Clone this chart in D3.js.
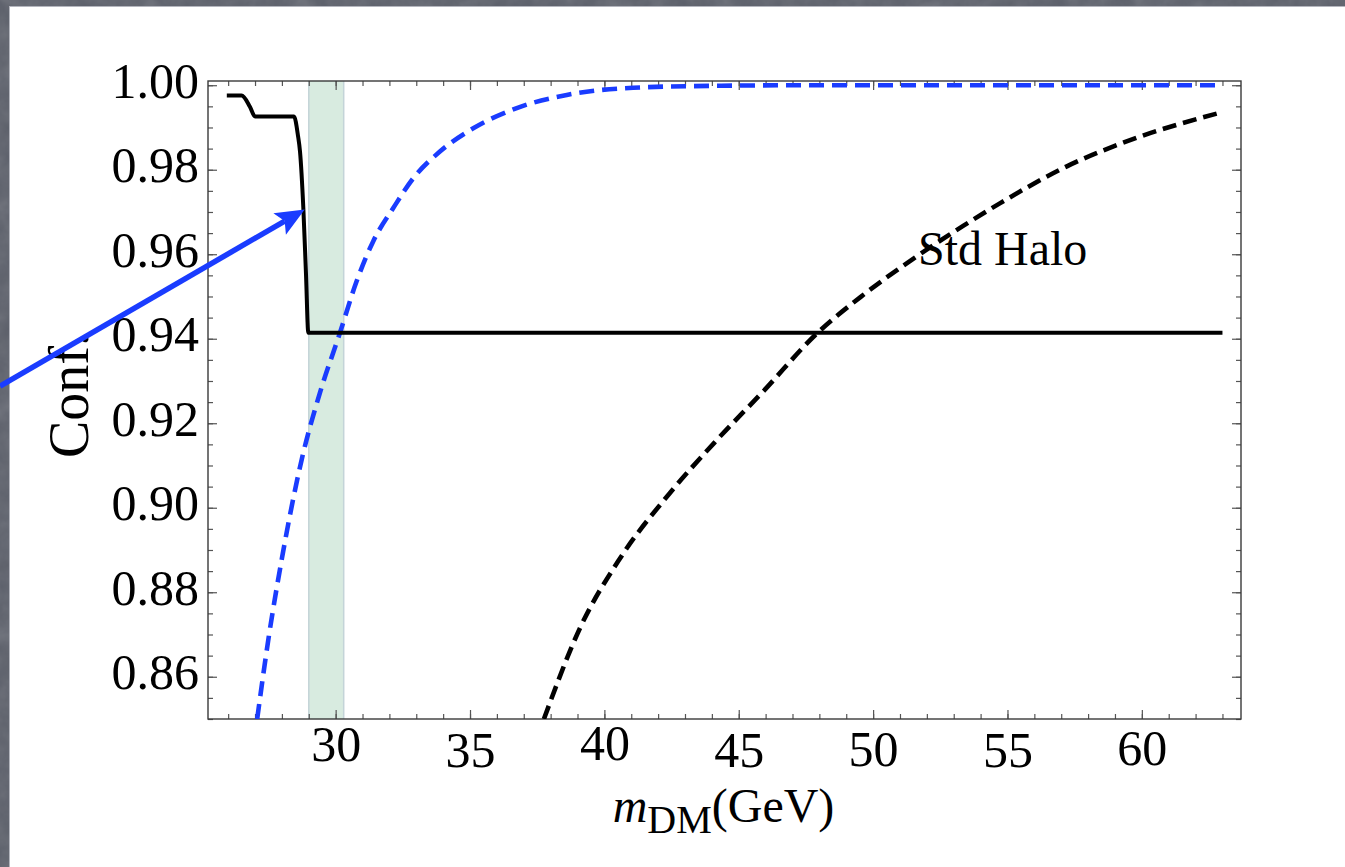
<!DOCTYPE html>
<html>
<head>
<meta charset="utf-8">
<script src="https://cdn.jsdelivr.net/npm/d3@7"></script>
<style>
  html, body { margin: 0; padding: 0; background: #575b66; overflow: hidden; }
  svg { display: block; }
</style>
</head>
<body>
<svg id="chart" width="1345" height="867"></svg>
<script>
// Confidence level versus dark-matter mass

// solid black: exclusion confidence with the modified halo
const massSolid = [25.95, 26.50, 26.81, 27.00, 28.45, 28.60, 28.674, 28.797, 28.897, 28.983, 63.0];
const confSolid = [0.99755, 0.99755, 0.9949, 0.9926, 0.9926, 0.9880, 0.9843, 0.9710, 0.9552, 0.9414, 0.9414];

// dashed blue
const massBlue = [27.08, 27.5, 28.0, 28.74, 29.42, 30.16, 30.78, 31.40, 32.15, 32.89, 33.88, 35.12, 36.74, 38.60, 41.07, 44.0, 48.0, 63.0];
const confBlue = [0.850, 0.869, 0.888, 0.9115, 0.9273, 0.9414, 0.9536, 0.9631, 0.9710, 0.9780, 0.9843, 0.9898, 0.9946, 0.9977, 0.9994, 0.99985, 1.0, 1.0];

// dashed black: standard halo
const massStd = [37.75, 39.09, 40.58, 42.44, 44.18, 45.92, 47.90, 49.64, 51.49, 53.35, 54.73, 57.21, 59.69, 62.91];
const confStd = [0.8500, 0.8715, 0.8880, 0.9035, 0.9160, 0.9276, 0.9412, 0.9504, 0.9589, 0.9667, 0.9721, 0.9808, 0.9873, 0.9935];

// shaded mass window
const bandMass = [29.0, 30.3];

// axis ticks
const xMajorTicks = [30, 35, 40, 45, 50, 55, 60];
const xMinorTicks = d3.range(26, 64, 1);
const yMajorTicks = [0.86, 0.88, 0.90, 0.92, 0.94, 0.96, 0.98, 1.00];
const yMinorTicks = d3.range(0, 31).map(i => +(0.85 + i * 0.005).toFixed(3));

// annotation: curve label and arrow (in data units)
const haloLabelText = "Std Halo";
const haloLabelAt = [51.67, 0.9574];
const arrowTail = [17.51, 0.9288];
const arrowTip = [28.85, 0.9706];

const W = 1345, H = 867;
const plot = { left: 208, right: 1241, top: 81, bottom: 719 };
const serif = "'Liberation Serif', 'Times New Roman', Times, serif";
const blue = "#1a3cff";

const svg = d3.select("#chart");

// slate background with grain
const defs = svg.append("defs");
const grain = defs.append("filter").attr("id", "grain")
  .attr("x", 0).attr("y", 0).attr("width", "100%").attr("height", "100%");
grain.append("feTurbulence").attr("type", "fractalNoise")
  .attr("baseFrequency", 0.045).attr("numOctaves", 4).attr("seed", 7);
grain.append("feColorMatrix").attr("type", "saturate").attr("values", 0);

svg.append("rect").attr("width", W).attr("height", H).attr("fill", "#5a5e69");
svg.append("rect").attr("width", W).attr("height", H)
  .attr("filter", "url(#grain)").attr("opacity", 0.22);

// white panel
svg.append("rect").attr("x", 9).attr("y", 6).attr("width", W - 9).attr("height", H - 6)
  .attr("fill", "#ffffff");
svg.append("line").attr("x1", 9).attr("x2", W).attr("y1", 6.5).attr("y2", 6.5)
  .attr("stroke", "#b4b6be").attr("stroke-width", 1);
svg.append("line").attr("x1", 9.5).attr("x2", 9.5).attr("y1", 6).attr("y2", H)
  .attr("stroke", "#b4b6be").attr("stroke-width", 1);

const x = d3.scaleLinear().domain([25.25, 63.69]).range([plot.left, plot.right]);
const y = d3.scaleLinear().domain([0.85, 1.001]).range([plot.bottom, plot.top]);

// shaded band
const band = svg.append("g");
band.append("rect")
  .attr("x", x(bandMass[0])).attr("y", plot.top)
  .attr("width", x(bandMass[1]) - x(bandMass[0]))
  .attr("height", plot.bottom - plot.top)
  .attr("fill", "#d8ebe0");
bandMass.forEach(m => {
  band.append("line").attr("x1", x(m)).attr("x2", x(m))
    .attr("y1", plot.top).attr("y2", plot.bottom)
    .attr("stroke", "#c4d4d8").attr("stroke-width", 1.5);
});

// frame ticks (inward, on all four sides)
const tickColor = "#555";
function tickAxis(gen, transform, ticks, size, labels) {
  const g = svg.append("g").attr("transform", transform)
    .call(gen.tickValues(ticks).tickSize(-size).tickPadding(9)
      .tickFormat(labels ? labels : () => ""));
  g.select(".domain").remove();
  g.selectAll(".tick line").attr("stroke", tickColor).attr("stroke-width", 1.2);
  return g;
}
tickAxis(d3.axisLeft(y), `translate(${plot.left},0)`, yMinorTicks, 5);
tickAxis(d3.axisRight(y), `translate(${plot.right},0)`, yMinorTicks, 5);
tickAxis(d3.axisRight(y), `translate(${plot.right},0)`, yMajorTicks, 9);
tickAxis(d3.axisBottom(x), `translate(0,${plot.bottom})`, xMinorTicks, 5);
tickAxis(d3.axisTop(x), `translate(0,${plot.top})`, xMinorTicks, 5);
tickAxis(d3.axisTop(x), `translate(0,${plot.top})`, xMajorTicks, 9);

const yAx = tickAxis(d3.axisLeft(y), `translate(${plot.left},0)`, yMajorTicks, 9, d3.format(".2f"));
yAx.selectAll("text")
  .attr("font-family", serif).attr("font-size", 50).attr("fill", "#000")
  .attr("dy", "0.24em");

const xAx = tickAxis(d3.axisBottom(x), `translate(0,${plot.bottom})`, xMajorTicks, 9, d3.format("d"));
const xLabelDrop = { 30: 42, 35: 48, 40: 41, 45: 48, 50: 47, 55: 48, 60: 46 };
xAx.selectAll("text")
  .attr("font-family", serif).attr("font-size", 50).attr("fill", "#000")
  .attr("dy", 0)
  .attr("y", d => xLabelDrop[d]);

// frame
svg.append("rect")
  .attr("x", plot.left).attr("y", plot.top)
  .attr("width", plot.right - plot.left).attr("height", plot.bottom - plot.top)
  .attr("fill", "none").attr("stroke", "#3a3a3a").attr("stroke-width", 1.4);

// curves
const clip = defs.append("clipPath").attr("id", "plotClip");
clip.append("rect").attr("x", plot.left).attr("y", plot.top)
  .attr("width", plot.right - plot.left).attr("height", plot.bottom - plot.top);

const line = d3.line().x(d => x(d[0])).y(d => y(d[1])).curve(d3.curveMonotoneX);
const curves = svg.append("g").attr("clip-path", "url(#plotClip)");

curves.append("path")
  .attr("d", line(d3.zip(massStd, confStd)))
  .attr("fill", "none").attr("stroke", "#000").attr("stroke-width", 4.6)
  .attr("stroke-dasharray", "14,7");

curves.append("path")
  .attr("d", line(d3.zip(massBlue, confBlue)))
  .attr("fill", "none").attr("stroke", blue).attr("stroke-width", 4.6)
  .attr("stroke-dasharray", "15,8");

curves.append("path")
  .attr("d", line(d3.zip(massSolid, confSolid)))
  .attr("fill", "none").attr("stroke", "#000").attr("stroke-width", 4)
  .attr("stroke-linejoin", "round");

// curve label
svg.append("text")
  .attr("x", x(haloLabelAt[0])).attr("y", y(haloLabelAt[1]))
  .attr("font-family", serif).attr("font-size", 48).attr("fill", "#000")
  .text(haloLabelText);

// axis titles
svg.append("text")
  .attr("transform", `translate(88,${(plot.top + plot.bottom) / 2 - 5}) rotate(-90)`)
  .attr("text-anchor", "middle")
  .attr("font-family", serif).attr("font-size", 56).attr("fill", "#000")
  .text("Conf.");

const xt = svg.append("text")
  .attr("x", (plot.left + plot.right) / 2 - 1).attr("y", 822)
  .attr("text-anchor", "middle")
  .attr("font-family", serif).attr("font-size", 48).attr("fill", "#000");
xt.append("tspan").attr("font-style", "italic").text("m");
xt.append("tspan").attr("font-size", 40).attr("dy", 11).text("DM");
xt.append("tspan").attr("dy", -11).text("(GeV)");

// arrow pointing at the drop of the solid curve
const t0 = [x(arrowTail[0]), y(arrowTail[1])];
const t1 = [x(arrowTip[0]), y(arrowTip[1])];
const len = Math.hypot(t1[0] - t0[0], t1[1] - t0[1]);
const u = [(t1[0] - t0[0]) / len, (t1[1] - t0[1]) / len];
const n = [-u[1], u[0]];
const headL = 29, headW = 12.5;
const neck = [t1[0] - u[0] * headL * 0.8, t1[1] - u[1] * headL * 0.8];
svg.append("line")
  .attr("x1", t0[0]).attr("y1", t0[1]).attr("x2", neck[0]).attr("y2", neck[1])
  .attr("stroke", blue).attr("stroke-width", 5.5);
svg.append("path")
  .attr("d", d3.line()([
    t1,
    [t1[0] - u[0] * headL + n[0] * headW, t1[1] - u[1] * headL + n[1] * headW],
    neck,
    [t1[0] - u[0] * headL - n[0] * headW, t1[1] - u[1] * headL - n[1] * headW]
  ]) + "Z")
  .attr("fill", blue);
</script>
</body>
</html>
